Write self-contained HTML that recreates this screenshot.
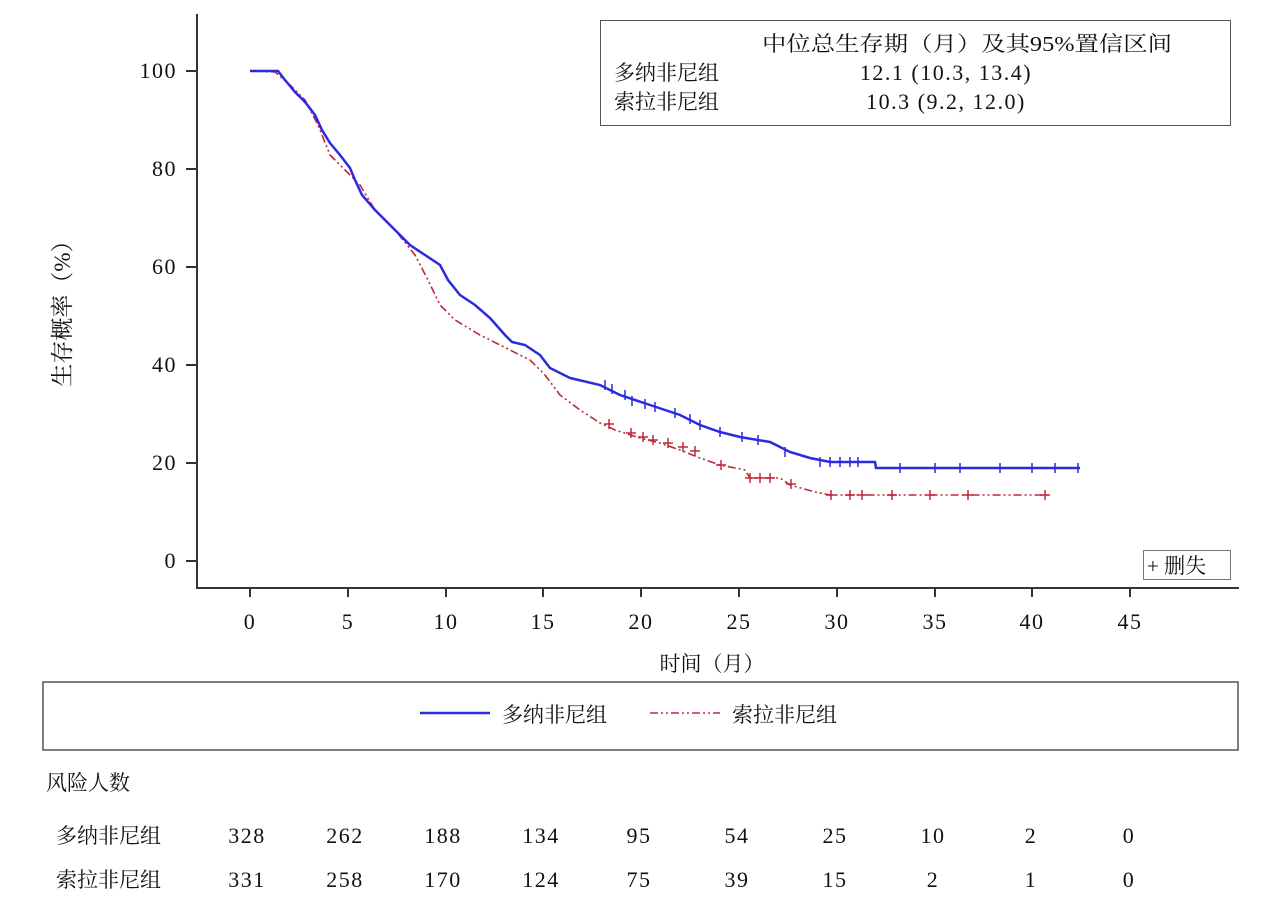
<!DOCTYPE html>
<html><head><meta charset="utf-8"><style>
body{margin:0;background:#fff}
svg text{font-family:"Liberation Serif","Noto Serif CJK SC",serif;fill:#111}
.n{font-size:22px;letter-spacing:1.5px}
.c{font-size:21px}
</style></head><body>
<svg width="1280" height="908" viewBox="0 0 1280 908" xmlns="http://www.w3.org/2000/svg">
<g stroke="#333" stroke-width="2" fill="none">
<path d="M197,14 V588 H1239"/>
<path d="M186,71 H197 M186,169 H197 M186,267 H197 M186,365 H197 M186,463 H197 M186,561 H197"/>
<path d="M250,588 v9 M348,588 v9 M446,588 v9 M543,588 v9 M641,588 v9 M739,588 v9 M837,588 v9 M935,588 v9 M1032,588 v9 M1130,588 v9"/>
</g>
<g class="n" text-anchor="end">
<text x="177" y="78">100</text><text x="177" y="176">80</text><text x="177" y="274">60</text><text x="177" y="372">40</text><text x="177" y="470">20</text><text x="177" y="568">0</text>
</g>
<g class="n" text-anchor="middle">
<text x="250" y="629">0</text><text x="348" y="629">5</text><text x="446" y="629">10</text><text x="543" y="629">15</text><text x="641" y="629">20</text><text x="739" y="629">25</text><text x="837" y="629">30</text><text x="935" y="629">35</text><text x="1032" y="629">40</text><text x="1130" y="629">45</text>
</g>
<text class="c" x="712" y="671" text-anchor="middle">时间（月）</text>
<text font-size="23" text-anchor="middle" transform="translate(70,308) rotate(-90)">生存概率（%）</text>

<polyline fill="none" stroke="#c0283a" stroke-width="1.6" stroke-dasharray="8,3,2,3,2,3" points="250,71 275,72 290,85 305,100 318,125 330,155 345,170 360,185 375,210 395,230 415,255 428,280 440,305 455,320 480,335 500,345 530,360 545,375 560,395 580,410 600,423 615,430 640,438 660,443 680,450 700,458 720,465 745,470 750,478 780,478 790,485 815,492 830,495 1050,495"/>
<polyline fill="none" stroke="#2a2ae0" stroke-width="2.5" points="250,71 278,71 285,80 295,92 305,102 315,115 322,130 330,143 340,155 350,168 355,180 362,195 375,210 390,225 410,245 425,255 440,265 448,280 460,295 475,305 490,318 505,335 512,342 525,345 540,355 550,368 570,378 600,385 620,395 650,405 680,415 700,425 720,432 740,437 770,442 790,452 810,458 830,462 875,462 876,468 1080,468"/>
<g stroke="#2a2ae0" stroke-width="1.5">
<path d="M605,380v10 M612,384v10 M625,390v10 M632,396v10 M645,399v10 M655,402v10 M675,408v10 M690,414v10 M700,420v10 M720,427v10 M742,432v10 M758,435v10 M785,447v10 M820,457v10 M830,457v10 M840,457v10 M850,457v10 M858,457v10 M900,463v10 M935,463v10 M960,463v10 M1000,463v10 M1032,463v10 M1055,463v10 M1078,463v10"/>
</g>
<g stroke="#c0283a" stroke-width="1.5">
<path d="M604,424h10M609,419v10 M626,433h10M631,428v10 M638,437h10M643,432v10 M648,440h10M653,435v10 M663,443h10M668,438v10 M678,447h10M683,442v10 M690,451h10M695,446v10 M716,465h10M721,460v10 M745,478h10M750,473v10 M755,478h10M760,473v10 M765,478h10M770,473v10 M786,484h10M791,479v10 M826,495h10M831,490v10 M845,495h10M850,490v10 M857,495h10M862,490v10 M887,495h10M892,490v10 M925,495h10M930,490v10 M963,495h10M968,490v10 M1040,495h10M1045,490v10"/>
</g>

<rect x="600.5" y="20.5" width="630" height="105" fill="#fff" stroke="#555"/>
<text x="762" y="51" font-size="21" textLength="410" lengthAdjust="spacingAndGlyphs">中位总生存期（月）及其95%置信区间</text>
<text class="c" x="614" y="80">多纳非尼组</text>
<text class="c" x="614" y="109">索拉非尼组</text>
<text class="n" x="946" y="80" text-anchor="middle" letter-spacing="0.5">12.1 (10.3, 13.4)</text>
<text class="n" x="946" y="109" text-anchor="middle" letter-spacing="0.5">10.3 (9.2, 12.0)</text>
<rect x="1143.5" y="550.5" width="87" height="29" fill="#fff" stroke="#777"/>
<text x="1147" y="573" font-size="21">+ 删失</text>

<rect x="43" y="682" width="1195" height="68" fill="#fff" stroke="#555" stroke-width="1.5"/>
<line x1="420" y1="713" x2="490" y2="713" stroke="#2a2ae0" stroke-width="2.5"/>
<text class="c" x="502" y="722">多纳非尼组</text>
<line x1="650" y1="713" x2="720" y2="713" stroke="#c0283a" stroke-width="1.6" stroke-dasharray="8,3,2,3,2,3"/>
<text class="c" x="732" y="722">索拉非尼组</text>

<text class="c" x="46" y="790">风险人数</text>
<text class="c" x="56" y="843">多纳非尼组</text>
<text class="c" x="56" y="887">索拉非尼组</text>
<g class="n" text-anchor="middle">
<text x="247" y="843">328</text><text x="345" y="843">262</text><text x="443" y="843">188</text><text x="541" y="843">134</text><text x="639" y="843">95</text><text x="737" y="843">54</text><text x="835" y="843">25</text><text x="933" y="843">10</text><text x="1031" y="843">2</text><text x="1129" y="843">0</text>
<text x="247" y="887">331</text><text x="345" y="887">258</text><text x="443" y="887">170</text><text x="541" y="887">124</text><text x="639" y="887">75</text><text x="737" y="887">39</text><text x="835" y="887">15</text><text x="933" y="887">2</text><text x="1031" y="887">1</text><text x="1129" y="887">0</text>
</g>
</svg>
</body></html>
